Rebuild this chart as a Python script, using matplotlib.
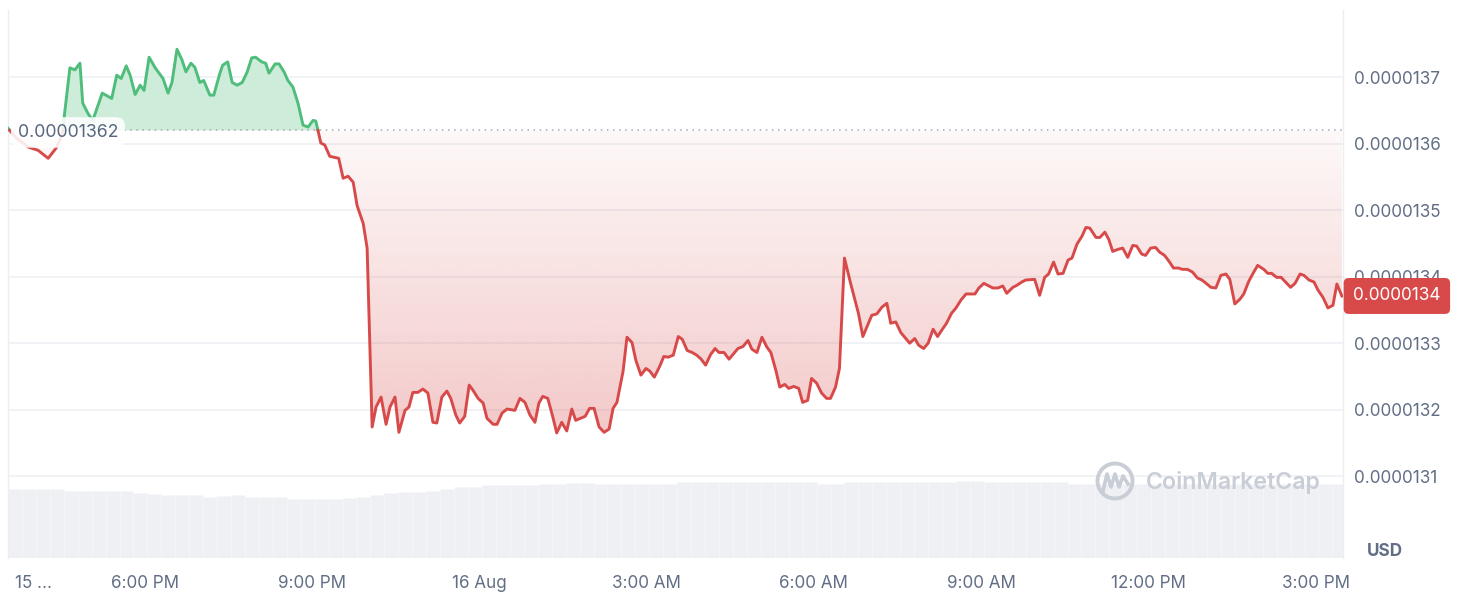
import numpy as np
import matplotlib
matplotlib.use("Agg")
import matplotlib.pyplot as plt
from matplotlib.path import Path
from matplotlib.patches import PathPatch, Circle
from matplotlib.transforms import IdentityTransform

plt.rcParams['font.family'] = ['Inter', 'DejaVu Sans']

# ---------------- data ----------------
# time in hours since 15 Aug 00:00, price in units of 1e-8 USD
hours = [15.55, 15.68, 15.91, 16.09, 16.27, 16.41, 16.52, 16.66, 16.75, 16.84,
         16.89, 16.98, 17.07, 17.24, 17.41, 17.50, 17.58, 17.67, 17.74, 17.83,
         17.92, 17.99, 18.08, 18.19, 18.33, 18.42, 18.49, 18.58, 18.67, 18.74,
         18.83, 18.90, 18.99, 19.06, 19.17, 19.24, 19.35, 19.40, 19.49, 19.57,
         19.66, 19.75, 19.84, 19.92, 19.99, 20.10, 20.17, 20.23, 20.34, 20.41,
         20.50, 20.57, 20.66, 20.75, 20.84, 20.93, 21.02, 21.07, 21.16, 21.23,
         21.32, 21.48, 21.56, 21.65, 21.74, 21.81, 21.92, 21.99, 22.08, 22.15,
         22.24, 22.33, 22.40, 22.49, 22.56, 22.67, 22.74, 22.81, 22.90, 22.99,
         23.08, 23.17, 23.24, 23.33, 23.42, 23.49, 23.58, 23.65, 23.74, 23.82,
         23.89, 23.98, 24.07, 24.14, 24.25, 24.32, 24.41, 24.50, 24.64, 24.73,
         24.82, 24.91, 25.00, 25.07, 25.14, 25.23, 25.32, 25.39, 25.48, 25.57,
         25.66, 25.73, 25.90, 25.98, 26.06, 26.15, 26.24, 26.33, 26.40, 26.47,
         26.58, 26.65, 26.74, 26.81, 26.90, 26.99, 27.06, 27.14, 27.23, 27.31,
         27.39, 27.48, 27.57, 27.64, 27.73, 27.82, 27.90, 27.98, 28.06, 28.15,
         28.23, 28.30, 28.39, 28.48, 28.57, 28.64, 28.73, 28.82, 28.89, 28.98,
         29.07, 29.16, 29.23, 29.32, 29.39, 29.48, 29.55, 29.64, 29.73, 29.80,
         29.89, 29.96, 30.05, 30.14, 30.23, 30.30, 30.39, 30.46, 30.55, 30.66,
         30.80, 30.88, 30.95, 31.04, 31.13, 31.22, 31.31, 31.38, 31.47, 31.56,
         31.65, 31.72, 31.81, 31.88, 31.97, 32.05, 32.14, 32.22, 32.29, 32.38,
         32.47, 32.55, 32.64, 32.73, 32.89, 32.96, 33.05, 33.14, 33.21, 33.30,
         33.39, 33.46, 33.57, 33.64, 33.73, 33.80, 33.96, 34.05, 34.14, 34.21,
         34.30, 34.38, 34.47, 34.56, 34.63, 34.72, 34.81, 34.88, 34.95, 35.06,
         35.13, 35.22, 35.29, 35.36, 35.45, 35.54, 35.63, 35.72, 35.79, 35.88,
         35.95, 36.04, 36.13, 36.20, 36.29, 36.38, 36.45, 36.54, 36.61, 36.70,
         36.79, 36.88, 36.96, 37.05, 37.12, 37.21, 37.30, 37.39, 37.46, 37.55,
         37.64, 37.71, 37.80, 37.89, 37.96, 38.07, 38.14, 38.21, 38.30, 38.38,
         38.46, 38.55, 38.63, 38.72, 38.79, 38.88, 38.97, 39.04, 39.13, 39.22,
         39.31, 39.38, 39.47]

price_e8 = [1362.3, 1361.0, 1359.5, 1359.0, 1357.8, 1359.3, 1361.3, 1371.4, 1371.1, 1372.1,
            1366.1, 1364.6, 1363.5, 1367.6, 1366.8, 1370.3, 1369.8, 1371.7, 1370.3, 1367.4,
            1368.8, 1368.0, 1373.0, 1371.4, 1369.8, 1367.6, 1369.2, 1374.2, 1372.6, 1370.8,
            1372.1, 1371.5, 1369.2, 1369.5, 1367.3, 1367.3, 1370.6, 1371.8, 1372.3, 1369.2,
            1368.8, 1369.2, 1370.8, 1372.9, 1373.0, 1372.3, 1372.1, 1370.6, 1372.0, 1372.0,
            1370.8, 1369.5, 1368.5, 1366.1, 1362.8, 1362.5, 1363.5, 1363.4, 1360.1, 1359.8,
            1358.1, 1357.8, 1354.8, 1355.1, 1354.2, 1350.7, 1348.0, 1344.3, 1317.4, 1320.4,
            1321.9, 1317.8, 1320.4, 1321.9, 1316.6, 1319.9, 1320.4, 1322.6, 1322.6, 1323.1,
            1322.5, 1318.1, 1318.0, 1321.9, 1322.8, 1321.7, 1319.2, 1318.0, 1319.0, 1323.7,
            1322.9, 1321.7, 1321.0, 1318.7, 1317.8, 1317.8, 1319.5, 1320.1, 1319.9, 1321.7,
            1321.1, 1319.2, 1318.1, 1321.0, 1322.0, 1321.7, 1318.9, 1316.5, 1318.1, 1316.8,
            1320.1, 1318.4, 1319.0, 1320.2, 1320.2, 1317.4, 1316.6, 1317.1, 1320.2, 1321.1,
            1325.8, 1330.9, 1330.1, 1327.4, 1325.2, 1326.2, 1325.8, 1324.9, 1326.4, 1328.0,
            1327.9, 1328.2, 1331.0, 1330.6, 1328.9, 1328.6, 1328.2, 1327.6, 1326.7, 1328.3,
            1329.2, 1328.6, 1328.6, 1327.6, 1328.5, 1329.2, 1329.5, 1330.4, 1329.1, 1328.6,
            1330.9, 1329.4, 1328.6, 1325.9, 1323.4, 1323.8, 1323.2, 1323.5, 1323.2, 1321.1,
            1321.4, 1324.7, 1324.0, 1322.5, 1321.7, 1321.7, 1323.4, 1326.2, 1342.8, 1339.0,
            1334.5, 1331.0, 1332.4, 1334.2, 1334.4, 1335.4, 1336.0, 1333.0, 1333.2, 1331.6,
            1330.7, 1330.0, 1330.7, 1329.7, 1329.2, 1330.0, 1332.1, 1331.0, 1331.9, 1333.0,
            1334.5, 1335.3, 1336.5, 1337.4, 1337.4, 1338.3, 1339.0, 1338.6, 1338.3, 1338.3,
            1338.6, 1337.5, 1338.4, 1338.7, 1339.2, 1339.5, 1339.6, 1337.2, 1339.9, 1340.4,
            1342.2, 1340.4, 1340.5, 1342.5, 1342.8, 1344.9, 1346.1, 1347.4, 1347.3, 1345.9,
            1345.9, 1346.7, 1345.6, 1343.8, 1344.1, 1344.3, 1342.9, 1344.7, 1344.6, 1343.4,
            1343.2, 1344.3, 1344.4, 1343.7, 1343.2, 1342.2, 1341.3, 1341.3, 1341.1, 1341.1,
            1340.7, 1339.8, 1339.5, 1338.9, 1338.4, 1338.3, 1340.2, 1340.4, 1339.6, 1335.9,
            1336.6, 1337.4, 1339.3, 1340.7, 1341.7, 1341.1, 1340.5, 1340.5, 1339.9, 1339.9,
            1339.2, 1338.4, 1339.0, 1340.4, 1340.2, 1339.5, 1339.2, 1338.0, 1336.9, 1335.3,
            1335.7, 1338.9, 1337.1]

open_price_e8 = 1362

# 15-minute volume bars (relative units), starting 15 Aug 15:33
volume = [69.0, 69.0, 69.0, 69.0, 67.3, 67.3, 67.3, 67.3, 67.3, 64.7,
          64.0, 62.7, 62.7, 62.7, 61.0, 62.0, 62.7, 61.3, 61.3, 61.3,
          59.5, 59.3, 59.3, 59.3, 60.0, 61.3, 63.0, 65.5, 66.0, 66.0,
          67.0, 69.0, 70.7, 71.5, 72.7, 72.7, 72.7, 73.0, 74.0, 74.0,
          75.0, 75.3, 74.0, 74.0, 74.0, 74.0, 74.0, 74.5, 75.7, 75.7,
          75.7, 75.7, 75.7, 75.7, 75.7, 75.7, 75.7, 75.7, 74.5, 74.5,
          75.7, 75.7, 75.7, 75.7, 75.7, 75.7, 75.7, 75.7, 77.3, 77.3,
          76.5, 75.7, 75.7, 75.7, 75.7, 75.7, 74.0, 74.0, 74.0, 74.0,
          74.0, 74.0, 74.0, 74.0, 74.0, 74.0, 74.0, 74.0, 74.0, 74.0,
          74.0, 74.0, 74.0, 74.0, 74.0, 74.0]

tick_hours = [16, 18, 21, 24, 27, 30, 33, 36, 39]
tick_labels = ['15 ...', '6:00 PM', '9:00 PM', '16 Aug', '3:00 AM',
               '6:00 AM', '9:00 AM', '12:00 PM', '3:00 PM']
ytick_e8 = [1310, 1320, 1330, 1340, 1350, 1360, 1370]

# ---------------- styling ----------------
GREEN = '#4fbd7b'
GREEN_FILL = '#cdecd9'
RED = '#d84a4a'
TXT = '#616e85'
GRID = '#eef0f3'

t = np.array(hours, dtype=float)
p = np.array(price_e8) * 1e-8
base = open_price_e8 * 1e-8

# insert crossing points with the baseline
tt, pp = [t[0]], [p[0]]
for i in range(1, len(t)):
    a, b = p[i - 1] - base, p[i] - base
    if a * b < 0:
        f = a / (a - b)
        tt.append(t[i - 1] + f * (t[i] - t[i - 1]))
        pp.append(base)
    tt.append(t[i]); pp.append(p[i])
tt = np.array(tt); pp = np.array(pp)

W, H, DPI = 14.6, 6.14, 100
fig = plt.figure(figsize=(W, H), dpi=DPI)
pos = [8 / 1460, (614 - 558) / 614, 1335 / 1460, 548 / 614]

xmin, xmax = 15.55, 39.49
ymin, ymax = 1297.7e-8, 1380.1e-8

# volume axis (underneath)
axv = fig.add_axes(pos)
vt = xmin + 0.25 * np.arange(len(volume)) + 0.125
axv.bar(vt, volume, width=0.25, color='#eff0f4', edgecolor='#f6f7f9', linewidth=0.5)
axv.set_xlim(xmin, xmax)
axv.set_ylim(0, 548)
axv.axis('off')

ax = fig.add_axes(pos)
ax.patch.set_visible(False)
ax.set_xlim(xmin, xmax)
ax.set_ylim(ymin, ymax)

# grid
for v in ytick_e8:
    ax.axhline(v * 1e-8, color=GRID, lw=1.2, zorder=0)

# fills
ax.fill_between(tt, pp, base, where=pp >= base, color=GREEN_FILL, lw=0, zorder=1)
red_poly = ax.fill_between(tt, pp, base, where=pp <= base, color='none', lw=0, zorder=1)
paths = red_poly.get_paths()
if paths:
    comp = Path.make_compound_path(*paths)
    patch = PathPatch(comp, transform=ax.transData, fc='none', ec='none')
    ax.add_patch(patch)
    n = 256
    alpha = np.linspace(0.30, 0.035, n)  # bottom -> top
    grad = np.zeros((n, 1, 4))
    grad[..., 0] = 216 / 255; grad[..., 1] = 74 / 255; grad[..., 2] = 74 / 255
    grad[:, 0, 3] = alpha
    low = pp.min()
    im = ax.imshow(grad, extent=[xmin, xmax, low, base], origin='lower',
                   aspect='auto', zorder=1, interpolation='bilinear')
    im.set_clip_path(patch)
ax.set_xlim(xmin, xmax)
ax.set_ylim(ymin, ymax)

# lines
g = np.where(pp >= base, pp, np.nan)
r = np.where(pp <= base, pp, np.nan)
ax.plot(tt, g, color=GREEN, lw=2.1, zorder=3, solid_joinstyle='round')
ax.plot(tt, r, color=RED, lw=2.1, zorder=3, solid_joinstyle='round')

# baseline dotted
ax.axhline(base, color='#a3a9b5', lw=1.1, ls=(0, (1, 3)), zorder=2)

# spines
for s in ['top', 'bottom']:
    ax.spines[s].set_visible(False)
for s in ['left', 'right']:
    ax.spines[s].set_color('#eceef2')
    ax.spines[s].set_linewidth(1.0)

ax.yaxis.tick_right()
ax.set_yticks([v * 1e-8 for v in ytick_e8])
ax.set_yticklabels([f'{v * 1e-8:.7f}' for v in ytick_e8])
ax.tick_params(axis='y', length=0, pad=8, labelsize=12.3, labelcolor=TXT)
ax.set_xticks(tick_hours)
ax.set_xticklabels(tick_labels)
ax.tick_params(axis='x', length=0, pad=12, labelsize=12.3, labelcolor=TXT)

# baseline label
ax.annotate(f'{base:.8f}', xy=(0, base), xycoords=('axes fraction', 'data'),
            xytext=(7, -1.5), textcoords='offset points', ha='left', va='center',
            fontsize=12.8, color='#58667e', zorder=6,
            bbox=dict(boxstyle='round,pad=0.38,rounding_size=0.5', fc='white',
                      ec='none', alpha=0.88))

# last price tag
last = p[-1]
ax.annotate(f'{last:.7f}', xy=(1, last), xycoords=('axes fraction', 'data'),
            xytext=(7.3, 0), textcoords='offset points', ha='left', va='center',
            fontsize=12.4, color='white', zorder=10, annotation_clip=False,
            bbox=dict(boxstyle='round,pad=0.55,rounding_size=0.3', fc=RED, ec='none'))

fig.text(1385 / 1460, 1 - 551 / 614, 'USD', ha='center', va='center',
         fontsize=12.3, fontweight='bold', color=TXT)

# watermark
wm = '#c9cdd6'
fig.text(1233 / 1460, 1 - 482 / 614, 'CoinMarketCap', ha='center', va='center',
         fontsize=16.7, fontweight='semibold', color=wm)
circ = Circle((1115, 614 - 481), 17.5, transform=IdentityTransform(), fill=False,
              ec=wm, lw=2.8)
fig.add_artist(circ)
xs = np.array([1103, 1107, 1111, 1115, 1119, 1123, 1128])
ys = 614 - np.array([491, 474, 487, 474, 487, 476, 484])
fig.add_artist(plt.Line2D(xs, ys, transform=IdentityTransform(), color=wm, lw=2.6))

fig.savefig('out.png', dpi=DPI)
